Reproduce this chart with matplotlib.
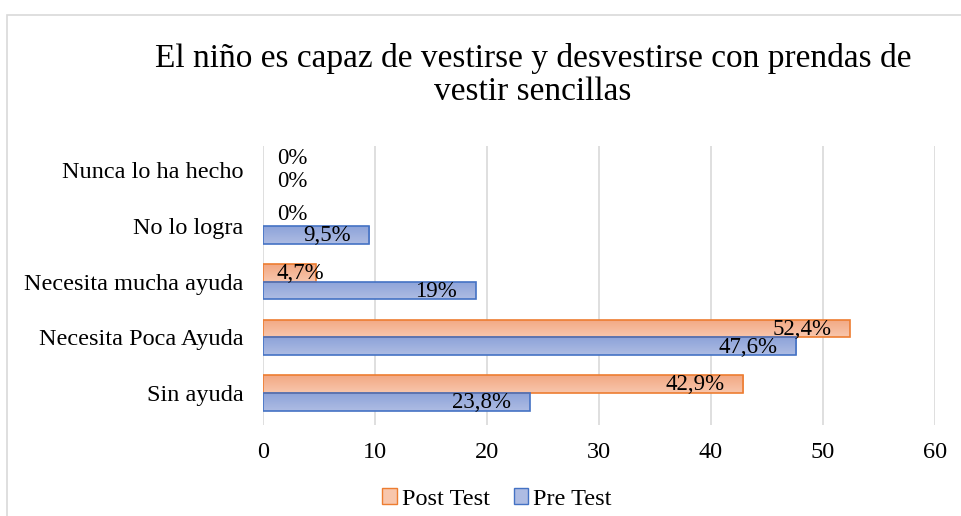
import numpy as np
import matplotlib.pyplot as plt
from matplotlib.patches import Patch, Rectangle
from matplotlib.colors import LinearSegmentedColormap

plt.rcParams['font.family'] = ['Liberation Serif', 'DejaVu Serif']

# Data (bottom to top, as drawn)
categories = ['Sin ayuda', 'Necesita Poca Ayuda', 'Necesita mucha ayuda',
              'No lo logra', 'Nunca lo ha hecho']
post_test = [42.9, 52.4, 4.7, 0, 0]
pre_test = [23.8, 47.6, 19, 9.5, 0]
post_labels = ['42,9%', '52,4%', '4,7%', '0%', '0%']
pre_labels = ['23,8%', '47,6%', '19%', '9,5%', '0%']

title = 'El niño es capaz de vestirse y desvestirse con prendas de\nvestir sencillas'

orange_edge = '#ED7D31'
blue_edge = '#4472C4'
orange_grad = ['#F8C6AC', '#F2A883']
blue_grad = ['#AEBCE3', '#8DA3D9']
fs = 17.5

fig = plt.figure(figsize=(9.61, 5.16), dpi=100)

# chart frame
fig.patches.append(Rectangle((7 / 961, -0.01), 1.0, 1 - 15 / 516 + 0.01,
                             transform=fig.transFigure, fill=False,
                             edgecolor='#D9D9D9', linewidth=1.2))

ax = fig.add_axes([263 / 961, 1 - 425 / 516, (935 - 263) / 961, (425 - 146) / 516])

y = np.arange(len(categories))
h = 0.32


def gradient_bars(bars, colors):
    grad = np.linspace(0, 1, 50).reshape(-1, 1)
    cmap = LinearSegmentedColormap.from_list('g', colors)
    for b in bars:
        if b.get_width() <= 0:
            b.set_linewidth(0)
            continue
        x0, y0 = b.get_x(), b.get_y()
        w, hh = b.get_width(), b.get_height()
        im = ax.imshow(grad, cmap=cmap, aspect='auto', origin='upper',
                       extent=[x0, x0 + w, y0, y0 + hh], zorder=2)
        im.set_clip_path(b)


post_bars = ax.barh(y + h / 2, post_test, height=h, color='none',
                    edgecolor=orange_edge, linewidth=1.2, zorder=3)
pre_bars = ax.barh(y - h / 2, pre_test, height=h, color='none',
                   edgecolor=blue_edge, linewidth=1.2, zorder=3)
gradient_bars(post_bars, orange_grad[::-1])
gradient_bars(pre_bars, blue_grad[::-1])

ax.set_xlim(0, 60)
ax.set_ylim(-0.57, 4.43)

# data labels: inside end, but never further left than a small margin from 0
renderer = fig.canvas.get_renderer()
ax_left = ax.get_window_extent(renderer).x0
for i in range(len(categories)):
    for val, lab, yy, dy in ((post_test[i], post_labels[i], y[i] + h / 2, 1.5),
                             (pre_test[i], pre_labels[i], y[i] - h / 2, -1.5)):
        t = ax.annotate(lab, (val, yy), xytext=(-13.5, -0.5), textcoords='offset points',
                        ha='right', va='center', fontsize=16.5, zorder=4)
        if val == 0 or t.get_window_extent(renderer).x0 < ax_left + 14:
            t.remove()
            ax.annotate(lab, (0, yy), xytext=(10, dy if val == 0 else -0.5),
                        textcoords='offset points', ha='left', va='center',
                        fontsize=16.5, zorder=4)

ax.set_xticks(range(0, 61, 10))
ax.set_yticks(y)
ax.set_yticklabels(categories)
ax.tick_params(axis='both', length=0, labelsize=fs)
ax.tick_params(axis='x', pad=12)
ax.tick_params(axis='y', pad=14)
ax.grid(axis='x', color='#D9D9D9', linewidth=1.2, zorder=0)
ax.set_axisbelow(True)
for s in ax.spines.values():
    s.set_visible(False)

fig.text(533 / 961, 1 - 75 / 516, title, ha='center', va='center',
         fontsize=24, linespacing=1.1)

handles = [Patch(facecolor=orange_grad[0], edgecolor=orange_edge, label='Post Test'),
           Patch(facecolor=blue_grad[0], edgecolor=blue_edge, label='Pre Test')]
fig.legend(handles=handles, loc='center', bbox_to_anchor=(497 / 961, 1 - 499 / 516),
           ncol=2, frameon=False, fontsize=fs, handlelength=0.6, handleheight=0.6,
           handletextpad=0.2, columnspacing=1.0)

fig.savefig('out.png', dpi=100)
